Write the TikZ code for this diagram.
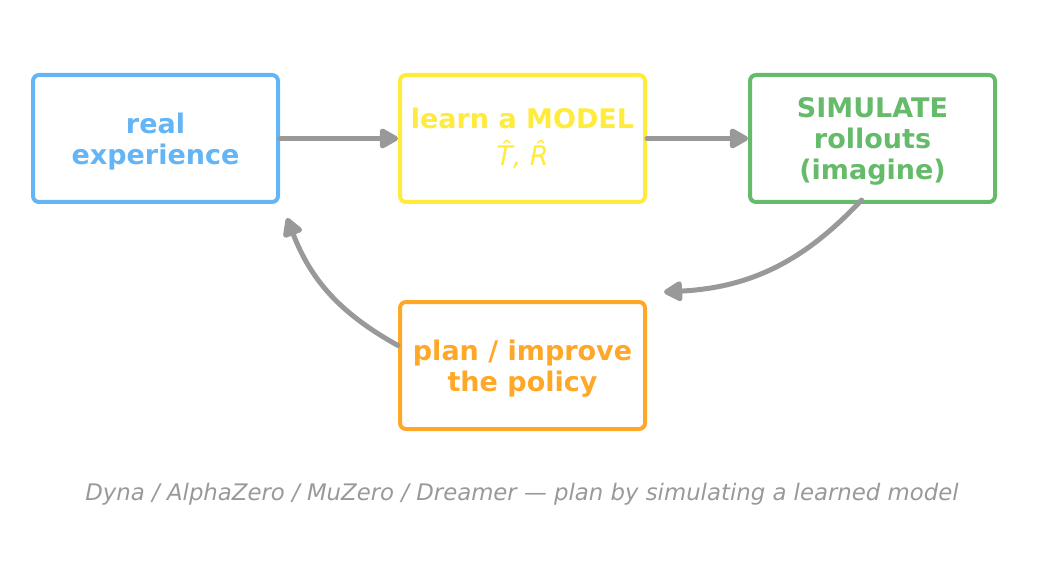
\documentclass[tikz,border=0pt]{standalone}
\usepackage{fontspec}
\setmainfont{DejaVu Sans}
\usetikzlibrary{arrows.meta}

\definecolor{realblue}{HTML}{64B5F6}
\definecolor{modelyellow}{HTML}{FFEB3B}
\definecolor{simgreen}{HTML}{66BB6A}
\definecolor{planorange}{HTML}{FFA726}
\definecolor{flowgray}{HTML}{999999}

\newcommand{\topgap}{\rule{0pt}{26.5pt}}

\tikzset{
  stage/.style={draw=#1, text=#1, line width=4pt, rounded corners=6pt,
    minimum width=245pt, minimum height=127pt, align=center,
    font=\fontsize{27}{31}\selectfont\bfseries},
  flow/.style={draw=flowgray, line width=5pt, line cap=round,
    -{Triangle[length=21pt,width=22pt,round]}}
}

\begin{document}
\begin{tikzpicture}[x=1pt, y=-1pt]
    \useasboundingbox (0,0) rectangle (1044,564);

    % the four stages
    \node[stage=realblue] (real) at (155.5,138.5) {\topgap real\\experience};
    \node[stage=modelyellow] (model) at (522.5,138.5)
        {learn a MODEL\\[6pt]{\mdseries\itshape\^T, \^R}};
    \node[stage=simgreen] (sim) at (872.5,138.5) {\topgap SIMULATE\\rollouts\\(imagine)};
    \node[stage=planorange] (plan) at (522.5,365.5) {\topgap plan / improve\\the policy};

    % loose ends of the loop
    \coordinate (intoplan) at (664,292);
    \coordinate (backreal) at (287,218);

    % arrows
    \draw[flow] (real.east) -- (model.west);
    \draw[flow] (model.east) -- (sim.west);
    \draw[flow] ([xshift=-11pt,yshift=4pt]sim.south) to[bend left=22] (intoplan);
    \draw[flow] ([yshift=20pt]plan.west) to[bend left=20] (backreal);

    % caption
    \node[text=flowgray, font=\fontsize{22.8}{27}\selectfont\itshape] (caption) at (522,494)
        {Dyna / AlphaZero / MuZero / Dreamer — plan by simulating a learned model};
\end{tikzpicture}
\end{document}
